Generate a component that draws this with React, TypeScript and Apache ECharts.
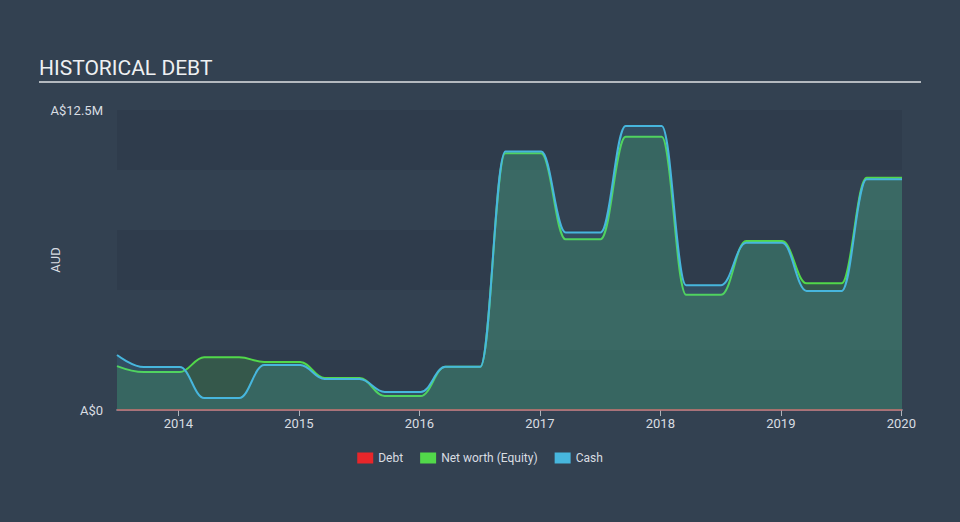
import React, { useEffect, useRef } from "react";
import * as echarts from "echarts";

// Reporting points (dates) shared by all series
const dates = [
  "2013-06-29", "2013-09-18",
  "2014-01-05", "2014-03-20", "2014-07-04", "2014-09-18",
  "2015-01-05", "2015-03-20", "2015-07-04", "2015-09-18",
  "2016-01-05", "2016-03-20", "2016-07-04", "2016-09-18",
  "2017-01-05", "2017-03-20", "2017-07-04", "2017-09-18",
  "2018-01-05", "2018-03-20", "2018-07-04", "2018-09-18",
  "2019-01-05", "2019-03-20", "2019-07-04", "2019-09-18",
  "2020-01-03",
];

const debt = [
  0, 0, 0, 0, 0, 0, 0, 0, 0, 0, 0, 0, 0, 0, 0, 0, 0, 0, 0, 0, 0, 0, 0, 0, 0, 0, 0,
];

const equity = [
  1.83, 1.58, 1.58, 2.2, 2.2, 2.0, 2.0, 1.33, 1.33, 0.58, 0.58, 1.8, 1.8,
  10.7, 10.7, 7.11, 7.11, 11.39, 11.39, 4.8, 4.8, 7.04, 7.04, 5.28, 5.28,
  9.68, 9.68,
];

const cash = [
  2.29, 1.79, 1.79, 0.5, 0.5, 1.875, 1.875, 1.29, 1.29, 0.75, 0.75, 1.8, 1.8,
  10.77, 10.77, 7.4, 7.4, 11.83, 11.83, 5.2, 5.2, 6.97, 6.97, 4.96, 4.96,
  9.61, 9.61,
];

const yearTicks = [2014, 2015, 2016, 2017, 2018, 2019, 2020];
const xMin = "2013-06-29";
const xMax = "2020-01-03";
const yMax = 12.5e6;
const yStep = 2.5e6;

// date string -> decimal year
const toYear = (s: string) => {
  const [y, m, d] = s.split("-").map(Number);
  const start = Date.UTC(y, 0, 1);
  const end = Date.UTC(y + 1, 0, 1);
  return y + (Date.UTC(y, m - 1, d) - start) / (end - start);
};
const toPairs = (vals: number[], scale: number) =>
  dates.map((d, i) => [toYear(d), vals[i] * scale]);

export default function App() {
  const ref = useRef<HTMLDivElement>(null);
  useEffect(() => {
    if (!ref.current) return;
    const chart = echarts.init(ref.current, undefined, { renderer: "svg" });
    const labelColor = "#d9dde2";
    chart.setOption({
      animation: false,
      backgroundColor: "#334151",
      textStyle: { fontFamily: "Roboto, 'Open Sans', sans-serif" },
      graphic: [
        {
          type: "text",
          left: 39,
          top: 57,
          style: { text: "HISTORICAL DEBT", fill: "#eef0f2", font: "21px Roboto, sans-serif" },
        },
        {
          type: "line",
          shape: { x1: 39, y1: 82, x2: 921, y2: 82 },
          style: { stroke: "#b4b9bf", lineWidth: 2 },
        },
      ],
      grid: { left: 117, right: 58, top: 110, bottom: 112 },
      legend: {
        bottom: 53,
        left: "center",
        icon: "rect",
        itemWidth: 16,
        itemHeight: 11,
        itemGap: 17,
        textStyle: { color: labelColor, fontSize: 12 },
        data: ["Debt", "Net worth (Equity)", "Cash"],
      },
      xAxis: {
        type: "value",
        min: toYear(xMin),
        max: toYear(xMax),
        axisLine: { lineStyle: { color: "#aeb4bb", width: 1.5 } },
        axisTick: { show: true, length: 6, lineStyle: { color: "#aeb4bb" }, customValues: yearTicks },
        axisLabel: {
          color: labelColor,
          fontSize: 13,
          margin: 7,
          customValues: yearTicks,
          formatter: (v: number) => String(Math.round(v)),
        },
        splitLine: { show: false },
      },
      yAxis: {
        type: "value",
        min: 0,
        max: yMax,
        interval: yStep,
        name: "AUD",
        nameLocation: "middle",
        nameGap: 55,
        nameMoveOverlap: false,
        nameTextStyle: { color: labelColor, fontSize: 13 },
        axisLine: { show: false },
        axisTick: { show: false },
        axisLabel: {
          color: labelColor,
          fontSize: 13,
          margin: 14,
          formatter: (v: number) => (v === 0 ? "A$0" : v === yMax ? "A$12.5M" : ""),
        },
        splitLine: { show: false },
        splitArea: {
          show: true,
          areaStyle: { color: ["rgba(30,40,52,0.16)", "rgba(0,0,0,0)"] },
        },
      },
      series: [
        {
          name: "Debt",
          type: "line",
          color: "#e8262a",
          data: toPairs(debt, 1e6),
          symbol: "none",
          lineStyle: { width: 1.5, opacity: 0.55 },
          z: 4,
        },
        {
          name: "Net worth (Equity)",
          type: "line",
          color: "#52d84a",
          data: toPairs(equity, 1e6),
          symbol: "none",
          smooth: 0.4,
          smoothMonotone: "x",
          lineStyle: { width: 2 },
          areaStyle: { color: "rgba(82,216,74,0.26)" },
          z: 2,
        },
        {
          name: "Cash",
          type: "line",
          color: "#47b6dd",
          data: toPairs(cash, 1e6),
          symbol: "none",
          smooth: 0.4,
          smoothMonotone: "x",
          lineStyle: { width: 2 },
          areaStyle: { color: "rgba(71,182,221,0.22)" },
          z: 3,
        },
      ],
    });
    return () => chart.dispose();
  }, []);
  return <div ref={ref} style={{ width: 960, height: 522, position: "fixed", left: 0, top: 0 }} />;
}
